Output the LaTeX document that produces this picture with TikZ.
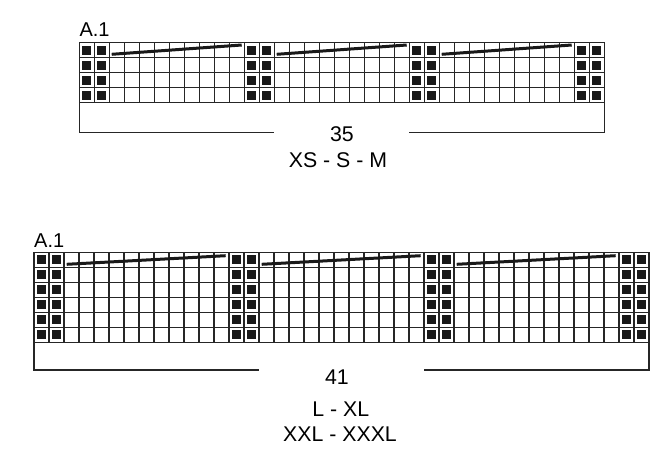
\documentclass[tikz,border=0pt]{standalone}
\usepackage{fontspec}
\setmainfont{Liberation Sans}
\begin{document}
\begin{tikzpicture}[x=1pt,y=-1pt,
  gridline/.style={draw=black!85, line width=1.2pt, line cap=rect},
  darksq/.style={fill=black!90},
  slant/.style={draw=black!90, line width=3pt},
  bracket/.style={draw=black!85, line width=1.3pt},
  lbl/.style={font=\fontsize{21.3}{23}\selectfont, inner sep=0pt},
  charttitle/.style={font=\fontsize{20}{22}\selectfont, inner sep=0pt, anchor=base west}]
\useasboundingbox (0,0) rectangle (670,455);
% ---------- chart 1 ----------
\foreach \i in {0,...,35} \draw[gridline] ({79.3+15*\i},42.7) -- ++(0,60);
\foreach \j in {0,...,4} \draw[gridline] (79.3,{42.7+15*\j}) -- ++(525,0);
\foreach \c in {0,1,11,12,22,23,33,34}
  \foreach \r in {0,...,3}
    \fill[darksq] ({79.3+15*\c+3},{42.7+15*\r+3}) rectangle ++(9,9);
\foreach \k in {0,1,2}
  \draw[slant] ({79.3+15*(2+11*\k)+2.4},54.3) -- ++(130,-9.3);
\coordinate (b1a) at (274,132.7);
\coordinate (b1b) at (409,132.7);
\draw[bracket] (79.3,102.7) -- (79.3,132.7) -- (b1a);
\draw[bracket] (b1b) -- (604.3,132.7) -- (604.3,102.7);
\node[charttitle] (t1) at (79.3,36.7) {A.1};
\node[lbl] (n35) at (342,133.7) {35};
\node[lbl] (s1) at (338,160.5) {XS - S - M};
% ---------- chart 2 ----------
\foreach \i in {0,...,41} \draw[gridline] ({34+15*\i},252.3) -- ++(0,90);
\foreach \j in {0,...,6} \draw[gridline] (34,{252.3+15*\j}) -- ++(615,0);
\foreach \c in {0,1,13,14,26,27,39,40}
  \foreach \r in {0,...,5}
    \fill[darksq] ({34+15*\c+3},{252.3+15*\r+3}) rectangle ++(9,9);
\foreach \k in {0,1,2}
  \draw[slant] ({34+15*(2+13*\k)+2.7},264.3) -- ++(159,-8.6);
\coordinate (b2a) at (259,370);
\coordinate (b2b) at (424.3,370);
\draw[bracket] (34,342.3) -- (34,370) -- (b2a);
\draw[bracket] (b2b) -- (649,370) -- (649,342.3);
\node[charttitle] (t2) at (34,247.3) {A.1};
\node[lbl] (n41) at (337,377.5) {41};
\node[lbl] (s2) at (340.7,409) {L - XL};
\node[lbl] (s3) at (340,434) {XXL - XXXL};
\end{tikzpicture}
\end{document}
